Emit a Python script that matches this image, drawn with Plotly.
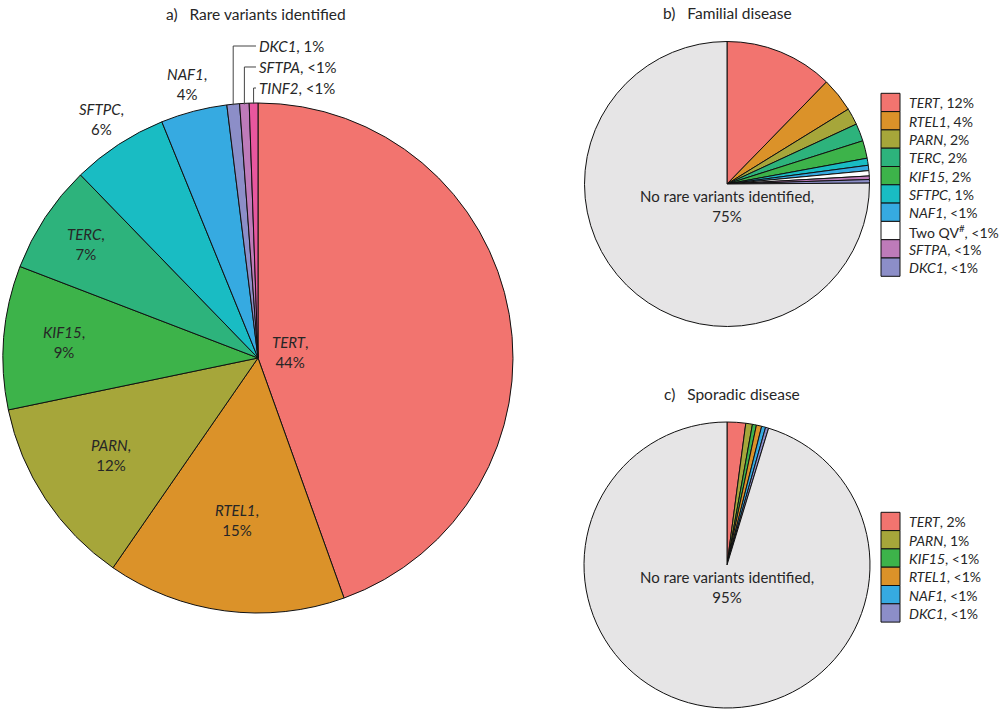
import math
import plotly.graph_objects as go

W, H = 1001, 712
FONT = "Lato"
TXT = "#262626"

# ---------------- data ----------------
# a) Rare variants identified
a_genes = ["TERT", "RTEL1", "PARN", "KIF15", "TERC", "SFTPC", "NAF1", "DKC1", "SFTPA", "TINF2"]
a_values = [44.5, 15.1, 12.1, 9.1, 6.9, 6.1, 4.2, 0.8, 0.6, 0.55]
a_pct = ["44%", "15%", "12%", "9%", "7%", "6%", "4%", "1%", "<1%", "<1%"]

# b) Familial disease
b_genes = ["TERT", "RTEL1", "PARN", "TERC", "KIF15", "SFTPC", "NAF1", "Two QV#", "SFTPA", "DKC1"]
b_values = [12.3, 3.9, 1.9, 2.0, 2.0, 0.8, 0.6, 0.6, 0.4, 0.4]
b_pct = ["12%", "4%", "2%", "2%", "2%", "1%", "<1%", "<1%", "<1%", "<1%"]
b_none_value = 75.1
b_none_pct = "75%"

# c) Sporadic disease
c_genes = ["TERT", "PARN", "KIF15", "RTEL1", "NAF1", "DKC1"]
c_values = [2.1, 0.75, 0.45, 0.6, 0.45, 0.35]
c_pct = ["2%", "1%", "<1%", "<1%", "<1%", "<1%"]
c_none_value = 95.3
c_none_pct = "95%"

NONE_LABEL = "No rare variants identified"

colors = {
    "TERT": "#F2746F", "RTEL1": "#DB9229", "PARN": "#A6A63A", "KIF15": "#3DB34A",
    "TERC": "#2DB37C", "SFTPC": "#19BCC3", "NAF1": "#36AAE1", "DKC1": "#8C8EC8",
    "SFTPA": "#BE7BB9", "TINF2": "#E8579E", "Two QV#": "#FFFFFF", NONE_LABEL: "#E6E5E6",
}

# ---------------- layout geometry (pixels) ----------------
PA = dict(cx=258, cy=358, r=255)
PB = dict(cx=727, cy=184, r=142.5)
PC = dict(cx=727, cy=565, r=143)


def dom(p):
    return dict(x=[(p["cx"] - p["r"]) / W, (p["cx"] + p["r"]) / W],
                y=[1 - (p["cy"] + p["r"]) / H, 1 - (p["cy"] - p["r"]) / H])


def px(x, y):
    return x / W, 1 - y / H


def polar(p, frac, rf):
    th = 2 * math.pi * frac
    return p["cx"] + rf * p["r"] * math.sin(th), p["cy"] - rf * p["r"] * math.cos(th)


def name_html(g):
    if g == "Two QV#":
        return "Two QV<sup>#</sup>"
    return "<i>%s</i>" % g


fig = go.Figure()
line_style = dict(color="#111111", width=1)

fig.add_trace(go.Pie(
    labels=a_genes, values=a_values, sort=False, direction="clockwise", rotation=0,
    marker=dict(colors=[colors[g] for g in a_genes], line=line_style),
    textinfo="none", hoverinfo="label+percent", domain=dom(PA), showlegend=False,
    name="a",
))
fig.add_trace(go.Pie(
    labels=[g + " (b)" for g in b_genes] + [NONE_LABEL + " (b)"],
    values=b_values + [b_none_value], sort=False, direction="clockwise", rotation=0,
    marker=dict(colors=[colors[g] for g in b_genes] + [colors[NONE_LABEL]], line=line_style),
    textinfo="none", hoverinfo="label+percent", domain=dom(PB), showlegend=False,
    name="b",
))
fig.add_trace(go.Pie(
    labels=[g + " (c)" for g in c_genes] + [NONE_LABEL + " (c)"],
    values=c_values + [c_none_value], sort=False, direction="clockwise", rotation=0,
    marker=dict(colors=[colors[g] for g in c_genes] + [colors[NONE_LABEL]], line=line_style),
    textinfo="none", hoverinfo="label+percent", domain=dom(PC), showlegend=False,
    name="c",
))

annotations = []
shapes = []


def ann(x, y, text, size, xanchor="center", align="center"):
    xp, yp = px(x, y)
    return dict(x=xp, y=yp, xref="paper", yref="paper", showarrow=False,
                xanchor=xanchor, yanchor="middle", align=align, text=text,
                font=dict(family=FONT, size=size, color=TXT))


# ---- pie a labels ----
a_total = sum(a_values)
label_radius = [0.126, 0.64, 0.69, 0.765, 0.81, 1.12, 1.11]
cum = 0.0
mids = []
for v in a_values:
    mids.append((cum + v / 2) / a_total)
    cum += v

for i, rf in enumerate(label_radius):
    x, y = polar(PA, mids[i], rf)
    annotations.append(ann(x, y, "%s,<br>%s" % (name_html(a_genes[i]), a_pct[i]), 15))

# small slices with elbow connectors
small_rows_y = [46, 67, 88]
for k, i in enumerate(range(7, 10)):
    xa, ya = polar(PA, mids[i], 1.0)
    yl = small_rows_y[k]
    xend = 256
    p0 = px(xa, ya + 1)
    p1 = px(xa, yl)
    p2 = px(xend, yl)
    shapes.append(dict(type="path", xref="paper", yref="paper",
                       path="M %f,%f L %f,%f L %f,%f" % (p0[0], p0[1], p1[0], p1[1], p2[0], p2[1]),
                       line=dict(color="#444444", width=1)))
    annotations.append(ann(xend + 1, yl, "%s, %s" % (name_html(a_genes[i]), a_pct[i]), 15,
                           xanchor="left", align="left"))

# ---- "No rare variants" labels ----
for p, pct in ((PB, b_none_pct), (PC, c_none_pct)):
    annotations.append(ann(p["cx"], p["cy"] + 22, "%s,<br>%s" % (NONE_LABEL, pct), 15))

# ---- titles ----
titles = [("a)", "Rare variants identified", 164, 14),
          ("b)", "Familial disease", 661, 13),
          ("c)", "Sporadic disease", 662, 394)]
for tag, t, x, y in titles:
    annotations.append(ann(x, y, tag + "\u00a0\u00a0\u00a0" + t, 15.5, xanchor="left", align="left"))

# ---- legends (b and c) ----
SW_X0, SW_X1, ROW_H = 881, 900, 18.3
for genes, pcts, top in ((b_genes, b_pct, 93.3), (c_genes, c_pct, 512.3)):
    for j, g in enumerate(genes):
        y0 = top + j * ROW_H
        y1 = y0 + ROW_H
        a0 = px(SW_X0, y0)
        a1 = px(SW_X1, y1)
        shapes.append(dict(type="rect", xref="paper", yref="paper",
                           x0=a0[0], y0=a1[1], x1=a1[0], y1=a0[1],
                           fillcolor=colors[g], line=dict(color="#111111", width=1)))
        annotations.append(ann(907, (y0 + y1) / 2 + 0.5, "%s, %s" % (name_html(g), pcts[j]), 14,
                               xanchor="left", align="left"))

fig.update_layout(
    width=W, height=H, margin=dict(l=0, r=0, t=0, b=0),
    paper_bgcolor="white", plot_bgcolor="white",
    font=dict(family=FONT, color=TXT),
    annotations=annotations, shapes=shapes, showlegend=False,
)

fig.write_html("out.html", config={"displayModeBar": False},
               post_script="document.body.style.margin='0';document.body.style.overflow='hidden';")
